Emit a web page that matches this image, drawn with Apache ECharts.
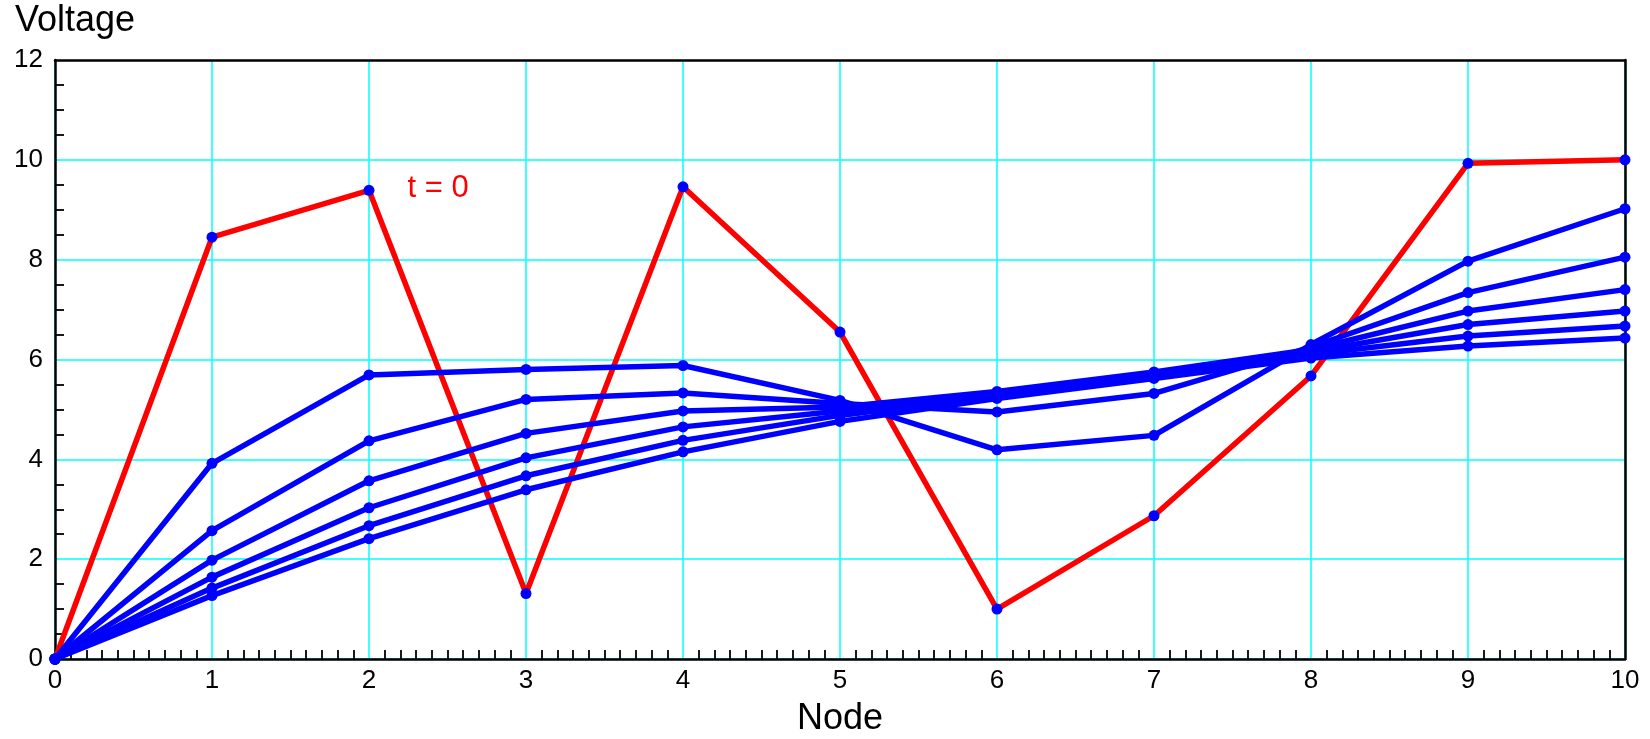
<!DOCTYPE html>
<html>
<head>
<meta charset="utf-8">
<title>Voltage per node</title>
<script src="https://cdn.jsdelivr.net/npm/echarts@6/dist/echarts.min.js"></script>
<style>
  html, body { margin: 0; padding: 0; background: #fff; }
  #main { width: 1650px; height: 739px; }
</style>
</head>
<body>
<div id="main"></div>
<script>
// node index on the x axis
var nodes = [0, 1, 2, 3, 4, 5, 6, 7, 8, 9, 10]

// voltage at t = 0 (red curve)
var voltT0 = [0, 8.45, 9.39, 1.31, 9.46, 6.55, 1.0, 2.87, 5.67, 9.93, 10.0]

// later time steps (blue curves), top to bottom at node 1
var voltT1 = [0, 3.92, 5.69, 5.80, 5.88, 5.18, 4.19, 4.48, 6.30, 7.97, 9.02]
var voltT2 = [0, 2.57, 4.37, 5.20, 5.33, 5.12, 4.95, 5.32, 6.25, 7.34, 8.05]
var voltT3 = [0, 1.98, 3.57, 4.52, 4.97, 5.05, 5.36, 5.75, 6.20, 6.97, 7.40]
var voltT4 = [0, 1.64, 3.03, 4.03, 4.65, 4.97, 5.32, 5.72, 6.15, 6.70, 6.97]
var voltT5 = [0, 1.42, 2.67, 3.67, 4.38, 4.88, 5.28, 5.68, 6.10, 6.47, 6.67]
var voltT6 = [0, 1.27, 2.41, 3.39, 4.15, 4.76, 5.22, 5.62, 6.03, 6.27, 6.43]

var blueRuns = [voltT1, voltT2, voltT3, voltT4, voltT5, voltT6]

var font = 'Liberation Sans, Arial, Helvetica, sans-serif'

function pairs(vals) {
  return nodes.map(function (n, i) { return [n, vals[i]] })
}

function lineSeries(vals, lineColor) {
  return {
    type: 'line',
    data: pairs(vals),
    clip: false,
    symbol: 'circle',
    symbolSize: 11,
    itemStyle: { color: '#0000ff' },
    lineStyle: { color: lineColor, width: 5.5 },
    z: 10
  }
}

var series = [lineSeries(voltT0, '#ff0000')]
series[0].markPoint = {
  symbol: 'circle',
  symbolSize: 0,
  data: [{ coord: [2.44, 9.43] }],
  label: {
    show: true,
    formatter: 't = 0',
    color: '#ff0000',
    fontFamily: font,
    fontSize: 31
  }
}
blueRuns.forEach(function (run) {
  series.push(lineSeries(run, '#0000ff'))
})

// plain black frame for the top and right sides
var frameLine = { show: true, onZero: false, lineStyle: { color: '#000', width: 2.5 } }

var chart = echarts.init(document.getElementById('main'))
chart.setOption({
  animation: false,
  backgroundColor: '#fff',
  title: {
    text: 'Voltage',
    left: 15,
    top: 3,
    padding: 0,
    textStyle: { fontFamily: font, fontSize: 36, fontWeight: 'normal', color: '#000' }
  },
  grid: {
    left: 55,
    right: 25,
    top: 60,
    bottom: 80,
    outerBoundsMode: 'none',
    containLabel: false
  },
  xAxis: [{
    type: 'value',
    min: 0,
    max: 10,
    interval: 1,
    name: 'Node',
    nameLocation: 'middle',
    nameGap: 42,
    nameTextStyle: { fontFamily: font, fontSize: 36, color: '#000' },
    axisLine: { onZero: false, lineStyle: { color: '#000', width: 2.5 } },
    axisTick: { show: false, inside: true },
    minorTick: { show: true, splitNumber: 10, length: 9, lineStyle: { color: '#000', width: 1.8 } },
    axisLabel: { fontFamily: font, fontSize: 26, color: '#000', margin: 9 },
    splitLine: { show: true, lineStyle: { color: '#00ffff', width: 1.5 } },
    minorSplitLine: { show: false }
  }, {
    type: 'value',
    position: 'top',
    min: 0,
    max: 10,
    axisLine: frameLine,
    axisTick: { show: false },
    axisLabel: { show: false },
    splitLine: { show: false }
  }],
  yAxis: [{
    type: 'value',
    min: 0,
    max: 12,
    interval: 2,
    axisLine: { show: true, onZero: false, lineStyle: { color: '#000', width: 2.5 } },
    axisTick: { show: false, inside: true },
    minorTick: { show: true, splitNumber: 4, length: 9, lineStyle: { color: '#000', width: 1.8 } },
    axisLabel: { fontFamily: font, fontSize: 26, color: '#000', margin: 12 },
    splitLine: {
      show: true,
      lineStyle: { color: ['#00ffff', '#00ffff', '#00ffff', '#00ffff', '#00ffff', '#00ffff', 'rgba(0,0,0,0)'], width: 1.5 }
    },
    minorSplitLine: { show: false }
  }, {
    type: 'value',
    position: 'right',
    min: 0,
    max: 12,
    axisLine: frameLine,
    axisTick: { show: false },
    axisLabel: { show: false },
    splitLine: { show: false }
  }],
  series: series
})
</script>
</body>
</html>
